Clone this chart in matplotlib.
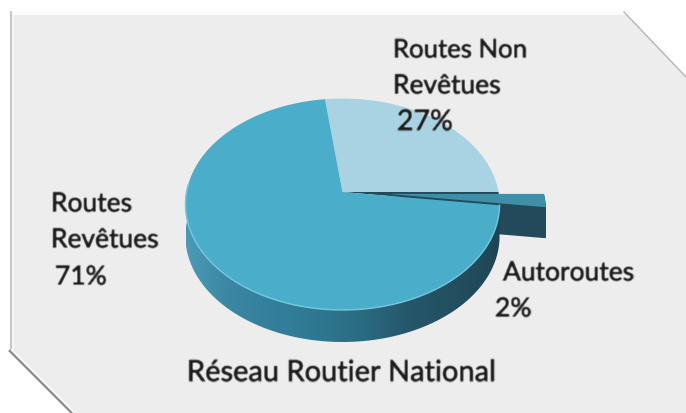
import numpy as np
import matplotlib
matplotlib.use("Agg")
import matplotlib.pyplot as plt
import matplotlib.patheffects as pe
from matplotlib.transforms import Transform
from matplotlib.patches import Polygon
from matplotlib.colors import LinearSegmentedColormap

# ---- data
categories = ["Routes Non\nRevêtues", "Routes\nRevêtues", "Autoroutes"]
shares = [27, 71, 2]
explode = [0, 0, 0.29]
title = "Réseau Routier National"

# ---- styles
slice_colors = ["#a9d3e3", "#4aaecb", "#3f8fa9"]
dark = "#224a5a"
panel = "#ededed"
wall_stops = ["#4a9ab6", "#3b86a2", "#337f9b", "#2f7790", "#2a6a81", "#25566a", "#234f61", "#1f4553"]
DEPTH = 31

plt.rcParams["font.family"] = ["Lato", "DejaVu Sans"]
fig = plt.figure(figsize=(6.86, 4.14), dpi=100, facecolor="white")
ax = fig.add_axes([0, 0, 1, 1])


class Tilt(Transform):
    """Perspective view of a unit-circle pie, output in pixels of the picture."""
    input_dims = output_dims = 2
    has_inverse = False
    is_affine = False

    def __init__(self, cx=342.5, cy=193.0, bx=156.0, by=104.3, k=0.116, dy=0.0):
        super().__init__()
        self.p = (cx, cy, bx, by, k, dy)

    def transform_non_affine(self, xy):
        cx, cy, bx, by, k, dy = self.p
        xy = np.asarray(xy, float)
        w = 1 + k * xy[:, 1]
        return np.column_stack([cx + bx * xy[:, 0] / w, cy + dy - by * xy[:, 1] / w])


def blur(img, dpi):
    pad = 2
    out = np.pad(img, ((pad, pad), (pad, pad), (0, 0)))
    kern = np.array([0.2, 0.6, 0.2])
    for axis in (0, 1):
        out = np.apply_along_axis(lambda m: np.convolve(m, kern, mode="same"), axis, out)
    return out, -pad, -pad


def tilted_pie(dy=0.0, colors=None, explode_=None, zorder=3):
    wedges, _ = ax.pie(shares, colors=colors, explode=explode_, startangle=0,
                       counterclock=True, radius=1.0, center=(0, 0), normalize=True)
    tr = Tilt(dy=dy) + ax.transData
    for w in wedges:
        w.set_transform(tr)
        w.set_zorder(zorder)
        w.set_linewidth(0)
    return wedges


# ---- panel with cut corners
ax.add_patch(Polygon([(10, 13), (624, 13), (686, 78), (686, 414), (72, 414), (10, 352)],
                     closed=True, facecolor=panel, edgecolor="none", zorder=0))
ax.plot([10, 624], [14, 14], color="#fbfbfb", lw=2.2, zorder=1)
ax.plot([10.5, 10.5], [13, 352], color="#c4c4c4", lw=1.3, zorder=1)
ax.plot([12.5, 12.5], [16, 350], color="#f8f8f8", lw=1.2, zorder=1)
ax.plot([10, 72], [352, 414], color="#8f8f8f", lw=1.9, zorder=1)
ax.plot([12, 74], [351, 413], color="#f7f7f7", lw=1.6, zorder=1)
ax.plot([624, 686], [13, 78], color="#b5b5b5", lw=1.0, zorder=1)

# ---- interior behind the pulled-out slice
gap = tilted_pie(colors=["none", "none", dark], zorder=2)

# ---- wall of the pulled-out slice
for d in np.arange(DEPTH, 0, -1.0):
    side = tilted_pie(dy=d, colors=["none", "none", dark], explode_=explode, zorder=2.2)

# ---- wall of the big slice, gradient clipped to the rim
a0 = np.deg2rad(shares[0] / sum(shares) * 360)
a1 = a0 + np.deg2rad(shares[1] / sum(shares) * 360)
th = np.linspace(np.deg2rad(176), a1, 240)
unit = np.column_stack([np.cos(th), np.sin(th)])
upper = Tilt().transform(unit)
lower = Tilt(dy=DEPTH + 1).transform(unit)
rim = Polygon(np.vstack([upper, lower[::-1]]), closed=True, transform=ax.transData,
              facecolor="none", edgecolor="none")
ax.add_patch(rim)
cmap = LinearSegmentedColormap.from_list("wall", wall_stops)
im = ax.imshow(np.linspace(0, 1, 256)[None, :], cmap=cmap, aspect="auto",
               extent=(186, 500, 345, 190), zorder=2.5)
im.set_clip_path(rim)

# ---- top faces
tilted_pie(colors=[slice_colors[0], slice_colors[1], slice_colors[2]], explode_=explode, zorder=3)
ax.plot(upper[:, 0], upper[:, 1], color="#74c8e0", lw=1.0, zorder=3.2)

ax.set_aspect("auto")
ax.set_xlim(0, 686)
ax.set_ylim(414, 0)
ax.axis("off")

# ---- labels
FS = 19
kw = dict(fontsize=FS, color="#1c1c1c", va="center", ha="left", zorder=5)
pct = [f"{v}%" for v in shares]
parts = [c.split("\n") for c in categories]
texts = [
    ax.text(393, 51, parts[0][0], **{**kw, "fontsize": 18.5}),
    ax.text(393, 87, parts[0][1], **kw),
    ax.text(397, 123, pct[0], **{**kw, "fontsize": 20.5}),
    ax.text(51, 205, parts[1][0], **kw),
    ax.text(51, 241, parts[1][1], **kw),
    ax.text(55, 278, pct[1], **kw),
    ax.text(503, 274, parts[2][0], **kw),
    ax.text(495, 310, pct[2], **kw),
    ax.text(187, 374, title, **{**kw, "fontsize": 20.9}),
]
for t in texts:
    t.set_path_effects([pe.withStroke(linewidth=0.6, foreground="#1c1c1c")])
    t.set_agg_filter(blur)

fig.savefig("out.png", dpi=100, facecolor="white")
